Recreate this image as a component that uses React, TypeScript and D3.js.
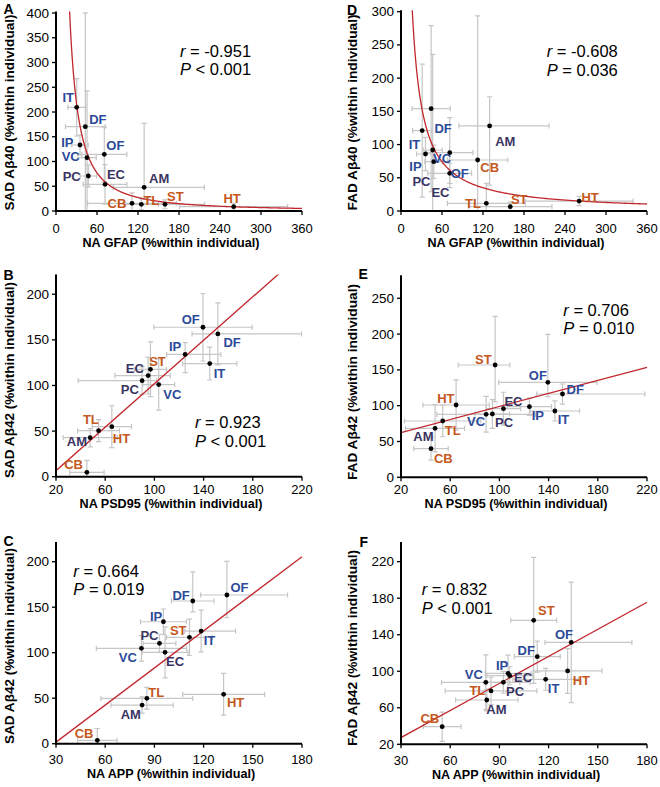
import React from 'react';
import * as d3 from 'd3';

const FONT = '"Liberation Sans", Arial, Helvetica, sans-serif';

type Err = number | [number, number];

// ---------- shared categories ----------
const regions = ['IT', 'DF', 'IP', 'OF', 'VC', 'PC', 'EC', 'AM', 'CB', 'TL', 'ST', 'HT'];
const regionGroup = ['blue', 'blue', 'blue', 'blue', 'blue', 'dark', 'dark', 'dark', 'orange', 'orange', 'orange', 'orange'];

// ---------- Panel A: NA GFAP vs SAD Abeta40 ----------
const aX = [30.3, 42.9, 35.1, 70.7, 45.4, 47.3, 71.7, 129, 111.2, 124.9, 159.5, 260];
const aY = [209.5, 170.3, 133.3, 114.5, 107.7, 70.7, 53.9, 47.9, 15.5, 13.5, 13.5, 8.7];
const aXErr: Err[] = [13, 29, 12, 33, 13.5, 12, 32, [45, 88], 65, 25, 58, 79];
const aYErr: Err[] = [58, 230, 20, 55, 135, 22, 40, [24, 129], 21, 11, 9, 7];

// ---------- Panel D: NA GFAP vs FAD Abeta40 ----------
const dX = [31, 44.1, 35.8, 71.3, 46.4, 47.9, 71.3, 129.7, 112.2, 124.9, 159.9, 260.7];
const dY = [121, 154, 85.8, 87.8, 91.8, 74.2, 56.7, 128, 76.8, 11.6, 6.5, 15];
const dXErr: Err[] = [14, 28, 13, 34, 14, 13, 32, [45, 87], 44, 57, 61, 79];
const dYErr: Err[] = [100, 125, 25, 52.7, 144, 25, 15, [89, 44], 217, 30, 7, 7];

// ---------- Panel B: NA PSD95 vs SAD Abeta42 ----------
const bX = [145, 151.6, 125, 139.5, 103.5, 90, 94.9, 47.8, 45.1, 54.6, 96.8, 65.4];
const bY = [124, 156.5, 134, 163.8, 101, 105.3, 110.8, 42.8, 4.8, 50.5, 117.7, 54.8];
const bXErr: Err[] = [22, [21, 68], [15, 29], 40, 13, [52, 12], [27, 18], 22, 14, 17, 13, 16];
const bYErr: Err[] = [18, 34, [20, 13], 37, 28, 15, 20, 10, 13, 12, 30, 23];

// ---------- Panel E: NA PSD95 vs FAD Abeta42 ----------
const eX = [145.1, 151.3, 124.4, 139.4, 89.2, 94.3, 103.3, 47.7, 44.4, 53.9, 96.5, 64.8];
const eY = [92.6, 116.3, 98.6, 132.7, 88, 88.4, 95.8, 68.4, 40, 78.6, 156.8, 101];
const eXErr: Err[] = [20, [21, 67], 18, 40, 40, 14, 14, 24, 14, 31, [30, 12], 27];
const eYErr: Err[] = [14, 14, 12, [20, 67], 25, 20, 23, 33, 16, 22, [51, 68], 35];

// ---------- Panel C: NA APP vs SAD Abeta42 ----------
const cX = [118.5, 113.4, 95.5, 134.2, 82.1, 93.1, 96.5, 82.5, 55.2, 85.4, 111.4, 132.2];
const cY = [123.8, 156.8, 134, 163.4, 104.8, 110.3, 100.4, 42.5, 3.7, 49.9, 116.9, 54.3];
const cXErr: Err[] = [[10, 21], 13, 14, [16, 37], 27.5, 10, 14, 19, 12, 28, 14, 25];
const cYErr: Err[] = [23, [12, 32], 14, [25, 37], 14, 10, 28, 9, 13, 12, 20, 23];

// ---------- Panel F: NA APP vs FAD Abeta42 ----------
const fX = [118.2, 113.1, 95.3, 133.8, 81.7, 92.4, 96.3, 82.3, 55.1, 84.9, 110.9, 131.6];
const fY = [91.2, 116, 97.7, 131.7, 87.9, 87.9, 95.2, 68.5, 39.3, 78.4, 155.8, 100.3];
const fXErr: Err[] = [20, 14, 14, [16, 37], 27, 10, 14, 19, 11.5, 28, 14, 21];
const fYErr: Err[] = [12, 17, 20, 66, 30, 12, 10, 12, 16, 15, 69, 24.5];

// ---------- tick values ----------
const gfapTicks = [0, 60, 120, 180, 240, 300, 360];
const psdTicks = [20, 60, 100, 140, 180, 220];
const appTicks = [30, 60, 90, 120, 150, 180];
const aYTicks = [0, 50, 100, 150, 200, 250, 300, 350, 400];
const dYTicks = [0, 50, 100, 150, 200, 250, 300];
const bYTicks = [0, 50, 100, 150, 200];
const eYTicks = [0, 50, 100, 150, 200, 250];
const cYTicks = [0, 50, 100, 150, 200];
const fYTicks = [20, 60, 100, 140, 180, 220];

// ---------- statistics ----------
const statsR = ['-0.951', '-0.608', '0.923', '0.706', '0.664', '0.832'];
const statsP = ['< 0.001', '= 0.036', '< 0.001', '= 0.010', '= 0.019', '< 0.001'];

// ---------- fitted trend lines ----------
const fitA = { kind: 'power', a: 35800, b: -1.5 };
const fitD = { kind: 'power', a: 6380, b: -1.088 };
const fitB = { kind: 'linear', m: 1.191, c: -17.2 };
const fitE = { kind: 'linear', m: 0.456, c: 53.3 };
const fitC = { kind: 'linear', m: 1.359, c: -39.1 };
const fitF = { kind: 'linear', m: 0.988, c: -2.3 };

// ---------- label placement (pixel offsets from point) ----------
const offA = [[-8.5, -9.5], [12.5, -7.5], [-12.7, -2.7], [11, -9], [-16.3, -1.2], [-16.6, 0.8], [11, -9.6], [15, -9], [-15, 0.3], [10, -4.3], [10.3, -8], [-1.5, -8]];
const offD = [[-7.7, 14.3], [12, 19.6], [-10, 12.7], [10, 21.3], [9.4, 8.3], [-12.3, 20], [-9.3, 19.4], [15.7, 15.7], [12, 7.3], [-13.3, 0], [9, -7.4], [11, -3.7]];
const offB = [[9.7, 9.7], [14.3, 8.7], [-10, -7.7], [-12.3, -8], [13.7, 9.7], [-12.3, 8.7], [-13.3, -6.7], [-13.3, 4], [-13.3, -8], [-7.7, -10.7], [7, -8.3], [9.7, 11.7]];
const offE = [[8.6, 8.3], [12.7, -4.7], [8.4, 9.3], [-10, -6.3], [-10, 7.4], [11.7, 8.7], [10, -7.7], [-11.7, 8.4], [12.3, 10.3], [10, 9], [-11.7, -6], [-10.3, -6.7]];
const offC = [[8.3, 9], [-11.7, -6], [-7.3, -5.7], [12.6, -7.7], [-13.6, 9], [-10, -8.3], [10, 9.4], [-11.3, 9], [-13.3, -7], [9.3, -5.6], [-11.3, -7.3], [12, 8.4]];
const offF = [[8, 9.7], [-11, -6.3], [-6, -8.3], [-7.3, -8], [-12, -7.3], [11.7, 9.3], [13.3, 2], [9.7, 9.3], [-12.3, -8.3], [-13.7, 0], [12.7, -9.7], [13.7, 10]];

const COLORS: Record<string, string> = { blue: '#2c4a98', dark: '#3a3462', orange: '#c4581d' };
const FIT_COLOR = '#c1272d';
const ERR_COLOR = '#c6c6c6';

const LEFT_COL = { l: 56, r: 302, titleX: 13.7 };
const RIGHT_COL = { l: 401, r: 647, titleX: 357 };

const panels = [
  {
    letter: 'A', col: LEFT_COL, letterX: 3.5, letterY: 13.5, xs: aX, ys: aY, xErr: aXErr, yErr: aYErr, off: offA,
    xDomain: [0, 360], yDomain: [0, 400], xTicks: gfapTicks, yTicks: aYTicks,
    bottom: 211, top: 13, xTitle: 'NA GFAP (%within individual)', yTitle: 'SAD Aβ40 (%within individual)',
    yTitleC: 112.5, tickLabelY: 232.5, xTitleY: 247, fit: fitA, statIdx: 0, statX: 180, statY: 56.7,
  },
  {
    letter: 'D', col: RIGHT_COL, letterX: 347, letterY: 15, xs: dX, ys: dY, xErr: dXErr, yErr: dYErr, off: offD,
    xDomain: [0, 360], yDomain: [0, 300], xTicks: gfapTicks, yTicks: dYTicks,
    bottom: 211, top: 11.7, xTitle: 'NA GFAP (%within individual)', yTitle: 'FAD Aβ40 (%within individual)',
    yTitleC: 112.5, tickLabelY: 232.5, xTitleY: 247, fit: fitD, statIdx: 1, statX: 546.7, statY: 57.3,
  },
  {
    letter: 'B', col: LEFT_COL, letterX: 3.5, letterY: 280, xs: bX, ys: bY, xErr: bXErr, yErr: bYErr, off: offB,
    xDomain: [20, 220], yDomain: [0, 220], xTicks: psdTicks, yTicks: bYTicks,
    bottom: 476.7, top: 276, xTitle: 'NA PSD95 (%within individual)', yTitle: 'SAD Aβ42 (%within individual)',
    yTitleC: 380, tickLabelY: 493.5, xTitleY: 507.8, fit: fitB, statIdx: 2, statX: 195, statY: 428.3,
  },
  {
    letter: 'E', col: RIGHT_COL, letterX: 358.5, letterY: 279, xs: eX, ys: eY, xErr: eXErr, yErr: eYErr, off: offE,
    xDomain: [20, 220], yDomain: [0, 280], xTicks: psdTicks, yTicks: eYTicks,
    bottom: 477.3, top: 276.8, xTitle: 'NA PSD95 (%within individual)', yTitle: 'FAD Aβ42 (%within individual)',
    yTitleC: 382, tickLabelY: 493.5, xTitleY: 507.8, fit: fitE, statIdx: 3, statX: 563.3, statY: 315.7,
  },
  {
    letter: 'C', col: LEFT_COL, letterX: 3.5, letterY: 546, xs: cX, ys: cY, xErr: cXErr, yErr: cYErr, off: offC,
    xDomain: [30, 180], yDomain: [0, 220], xTicks: appTicks, yTicks: cYTicks,
    bottom: 743.7, top: 543.5, xTitle: 'NA APP (%within individual)', yTitle: 'SAD Aβ42 (%within individual)',
    yTitleC: 646, tickLabelY: 764, xTitleY: 778.3, fit: fitC, statIdx: 4, statX: 73.3, statY: 576.7,
  },
  {
    letter: 'F', col: RIGHT_COL, letterX: 359.5, letterY: 547, xs: fX, ys: fY, xErr: fXErr, yErr: fYErr, off: offF,
    xDomain: [30, 180], yDomain: [20, 240], xTicks: appTicks, yTicks: fYTicks,
    bottom: 744.3, top: 543.4, xTitle: 'NA APP (%within individual)', yTitle: 'FAD Aβ42 (%within individual)',
    yTitleC: 648, tickLabelY: 764.5, xTitleY: 778.8, fit: fitF, statIdx: 5, statX: 421.7, statY: 595,
  },
];

function pair(e: Err): [number, number] {
  return Array.isArray(e) ? e : [e, e];
}

function Panel({ p }: { p: any }) {
  const L = p.col.l;
  const R = p.col.r;
  const x = d3.scaleLinear().domain(p.xDomain).range([L, R]);
  const y = d3.scaleLinear().domain(p.yDomain).range([p.bottom, p.top]);
  const clipId = `clip-${p.letter}`;
  const cap = 2.6;

  const line = d3.line<[number, number]>().x((d) => x(d[0])).y((d) => y(d[1]));
  let fitPts: [number, number][];
  if (p.fit.kind === 'power') {
    const x0 = Math.pow((p.yDomain[1] * 1.05) / p.fit.a, 1 / p.fit.b);
    const x1 = p.xDomain[1];
    fitPts = d3.range(0, 301).map((i) => {
      const xv = x0 * Math.pow(x1 / x0, i / 300);
      return [xv, p.fit.a * Math.pow(xv, p.fit.b)] as [number, number];
    });
  } else {
    fitPts = [p.xDomain[0], p.xDomain[1]].map((xv: number) => [xv, p.fit.m * xv + p.fit.c] as [number, number]);
  }

  return (
    <g>
      <defs>
        <clipPath id={clipId}>
          <rect x={L} y={p.top - 1.5} width={R - L + 2} height={p.bottom - p.top + 1.5} />
        </clipPath>
      </defs>
      {/* error bars */}
      <g clipPath={`url(#${clipId})`} stroke={ERR_COLOR} strokeWidth={1.2} fill="none">
        {p.xs.map((xv: number, i: number) => {
          const yv = p.ys[i];
          const [xl, xh] = pair(p.xErr[i]);
          const [yl, yh] = pair(p.yErr[i]);
          const px = x(xv);
          const py = y(yv);
          const xa = x(xv - xl);
          const xb = x(xv + xh);
          const ya = y(yv - yl);
          const yb = y(yv + yh);
          return (
            <g key={i}>
              <line x1={xa} x2={xb} y1={py} y2={py} />
              <line x1={xa} x2={xa} y1={py - cap} y2={py + cap} />
              <line x1={xb} x2={xb} y1={py - cap} y2={py + cap} />
              <line x1={px} x2={px} y1={ya} y2={yb} />
              <line x1={px - cap} x2={px + cap} y1={ya} y2={ya} />
              <line x1={px - cap} x2={px + cap} y1={yb} y2={yb} />
            </g>
          );
        })}
      </g>
      {/* trend line */}
      <g clipPath={`url(#${clipId})`}>
        <path d={line(fitPts) || ''} fill="none" stroke={FIT_COLOR} strokeWidth={1.3} />
      </g>
      {/* points */}
      {p.xs.map((xv: number, i: number) => (
        <circle key={i} cx={x(xv)} cy={y(p.ys[i])} r={2.4} fill="#000" />
      ))}
      {/* region labels */}
      {p.xs.map((xv: number, i: number) => (
        <text
          key={i}
          x={x(xv) + p.off[i][0]}
          y={y(p.ys[i]) + p.off[i][1]}
          textAnchor="middle"
          dominantBaseline="central"
          fontFamily={FONT}
          fontWeight="bold"
          fontSize={13}
          fill={COLORS[regionGroup[i]]}
        >
          {regions[i]}
        </text>
      ))}
      {/* axes */}
      <g stroke="#000">
        <line x1={L} x2={R} y1={p.bottom} y2={p.bottom} strokeWidth={2} />
        <line x1={L} x2={L} y1={p.bottom + 1} y2={p.top - 1.5} strokeWidth={2} />
        {p.xTicks.map((t: number) => (
          <line key={`xt${t}`} x1={x(t)} x2={x(t)} y1={p.bottom} y2={p.bottom + 4} strokeWidth={1.3} />
        ))}
        {p.yTicks.map((t: number) => (
          <line key={`yt${t}`} x1={L - 4} x2={L} y1={y(t)} y2={y(t)} strokeWidth={1.3} />
        ))}
      </g>
      {p.xTicks.map((t: number) => (
        <text key={`xl${t}`} x={x(t)} y={p.tickLabelY} textAnchor="middle" fontFamily={FONT} fontSize={13} fill="#000">
          {t}
        </text>
      ))}
      {p.yTicks.map((t: number) => (
        <text key={`yl${t}`} x={L - 7} y={y(t)} textAnchor="end" dominantBaseline="central" fontFamily={FONT} fontSize={13.5} fill="#000">
          {t}
        </text>
      ))}
      {/* axis titles */}
      <text x={(L + R) / 2 - 8} y={p.xTitleY} textAnchor="middle" fontFamily={FONT} fontWeight="bold" fontSize={12.6} fill="#000">
        {p.xTitle}
      </text>
      <text
        transform={`translate(${p.col.titleX},${p.yTitleC}) rotate(-90)`}
        textAnchor="middle"
        fontFamily={FONT}
        fontWeight="bold"
        fontSize={13}
        textLength={196}
        lengthAdjust="spacingAndGlyphs"
        fill="#000"
      >
        {p.yTitle}
      </text>
      {/* panel letter */}
      <text x={p.letterX} y={p.letterY} fontFamily={FONT} fontWeight="bold" fontSize={14} fill="#000">
        {p.letter}
      </text>
      {/* statistics */}
      <text x={p.statX} y={p.statY} fontFamily={FONT} fontSize={16.5} fill="#000">
        <tspan fontStyle="italic">r</tspan>
        {` = ${statsR[p.statIdx]}`}
      </text>
      <text x={p.statX} y={p.statY + 18.6} fontFamily={FONT} fontSize={16.5} fill="#000">
        <tspan fontStyle="italic">P</tspan>
        {` ${statsP[p.statIdx]}`}
      </text>
    </g>
  );
}

export default function App() {
  return (
    <svg
      width={660}
      height={787}
      viewBox="0 0 660 787"
      style={{ position: 'absolute', left: 0, top: 0, background: '#fff' }}
    >
      <rect x={0} y={0} width={660} height={787} fill="#fff" />
      {panels.map((p) => (
        <Panel key={p.letter} p={p} />
      ))}
    </svg>
  );
}
